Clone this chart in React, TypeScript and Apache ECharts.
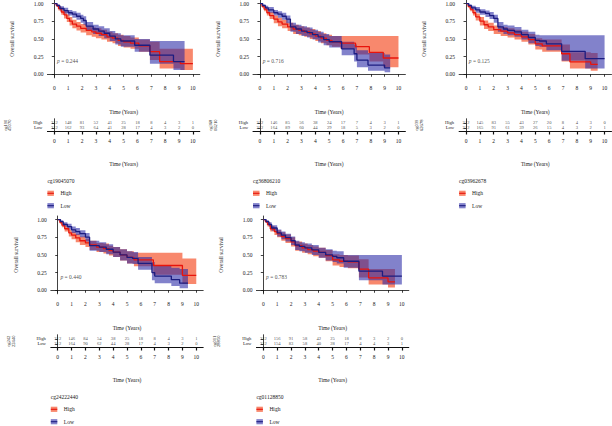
import React, { useEffect, useRef } from "react";
import * as echarts from "echarts";

type Row = [number, number, number, number]; // time, survival, lower, upper

const genes = ["cg19045070", "cg36806210", "cg03962678", "cg24222440", "cg01128850"];
const geneSplit = [["cg190", "45070"], ["cg368", "06210"], ["cg039", "62678"], ["cg242", "22440"], ["cg011", "28850"]];
const pValues = ["0.244", "0.716", "0.125", "0.440", "0.783"];
const timeTicks = [0, 1, 2, 3, 4, 5, 6, 7, 8, 9, 10];
const survTicks = [0, 0.25, 0.5, 0.75, 1];
const groups = ["High", "Low"];

const p1High: Row[] = [[0,1,1,1],[0.15,0.97,0.95,0.99],[0.3,0.93,0.9,0.96],[0.5,0.88,0.84,0.92],[0.7,0.84,0.79,0.89],[0.9,0.79,0.74,0.85],[1.1,0.75,0.69,0.81],[1.3,0.71,0.65,0.77],[1.6,0.68,0.62,0.74],[1.9,0.65,0.59,0.71],[2.3,0.62,0.55,0.68],[2.7,0.6,0.53,0.66],[3.0,0.58,0.51,0.65],[3.4,0.56,0.49,0.63],[3.8,0.53,0.46,0.6],[4.2,0.51,0.44,0.58],[4.6,0.48,0.4,0.56],[5.0,0.46,0.38,0.54],[5.5,0.44,0.36,0.52],[6.1,0.4,0.32,0.49],[6.9,0.32,0.2,0.46],[7.6,0.18,0.08,0.36],[9.1,0.15,0.06,0.36],[10,0.15,0.06,0.36]];
const p1Low: Row[] = [[0,1,1,1],[0.2,0.97,0.95,0.99],[0.4,0.93,0.9,0.96],[0.7,0.9,0.86,0.94],[1.0,0.87,0.83,0.91],[1.3,0.85,0.8,0.89],[1.6,0.82,0.77,0.87],[1.9,0.79,0.73,0.84],[2.1,0.76,0.7,0.82],[2.3,0.68,0.61,0.74],[2.8,0.64,0.57,0.7],[3.2,0.61,0.54,0.68],[3.6,0.58,0.51,0.65],[4.0,0.54,0.47,0.61],[4.4,0.5,0.42,0.58],[4.8,0.47,0.39,0.55],[5.8,0.41,0.32,0.5],[6.9,0.27,0.15,0.47],[8.6,0.18,0.06,0.47],[9.4,0.18,0.06,0.47]];
const p2High: Row[] = [[0,1,1,1],[0.15,0.96,0.94,0.98],[0.3,0.92,0.89,0.95],[0.5,0.87,0.83,0.91],[0.7,0.83,0.78,0.88],[1.0,0.78,0.72,0.83],[1.3,0.74,0.68,0.8],[1.6,0.71,0.65,0.77],[2.0,0.67,0.61,0.73],[2.4,0.64,0.57,0.7],[2.8,0.62,0.55,0.68],[3.2,0.6,0.53,0.66],[3.6,0.57,0.5,0.64],[4.0,0.54,0.47,0.61],[4.4,0.51,0.44,0.58],[4.8,0.48,0.41,0.56],[5.2,0.46,0.39,0.54],[5.8,0.44,0.36,0.54],[6.9,0.39,0.28,0.54],[7.9,0.31,0.18,0.54],[8.9,0.23,0.1,0.54],[10,0.23,0.1,0.54]];
const p2Low: Row[] = [[0,1,1,1],[0.2,0.97,0.95,0.99],[0.4,0.94,0.91,0.97],[0.6,0.91,0.87,0.95],[1.0,0.87,0.83,0.91],[1.3,0.85,0.8,0.89],[1.6,0.82,0.77,0.87],[1.9,0.78,0.72,0.83],[2.2,0.67,0.6,0.73],[2.6,0.64,0.57,0.7],[3.0,0.61,0.54,0.68],[3.4,0.59,0.52,0.66],[3.8,0.56,0.49,0.63],[4.2,0.53,0.45,0.6],[4.6,0.49,0.41,0.57],[5.0,0.46,0.38,0.54],[5.9,0.36,0.27,0.46],[6.8,0.29,0.18,0.42],[7.0,0.2,0.1,0.34],[7.8,0.13,0.05,0.3],[9.0,0.09,0.03,0.28],[9.4,0.09,0.03,0.28]];
const p3High: Row[] = [[0,1,1,1],[0.15,0.96,0.94,0.98],[0.3,0.92,0.89,0.95],[0.5,0.87,0.83,0.91],[0.7,0.81,0.76,0.86],[1.0,0.75,0.69,0.81],[1.3,0.7,0.64,0.76],[1.6,0.67,0.61,0.73],[2.0,0.63,0.57,0.69],[2.5,0.61,0.54,0.67],[3.0,0.585,0.52,0.65],[3.5,0.56,0.49,0.63],[4.0,0.53,0.46,0.6],[4.5,0.49,0.42,0.57],[5.0,0.43,0.35,0.51],[5.5,0.4,0.32,0.49],[6.9,0.29,0.18,0.42],[7.5,0.175,0.08,0.31],[9.0,0.14,0.05,0.3],[9.5,0.14,0.05,0.3]];
const p3Low: Row[] = [[0,1,1,1],[0.2,0.97,0.95,0.99],[0.4,0.94,0.91,0.97],[0.7,0.91,0.87,0.95],[1.0,0.88,0.84,0.92],[1.4,0.86,0.81,0.9],[1.7,0.83,0.78,0.88],[2.0,0.79,0.73,0.84],[2.3,0.67,0.6,0.74],[2.7,0.64,0.57,0.7],[3.0,0.62,0.55,0.69],[3.5,0.6,0.53,0.67],[4.0,0.56,0.49,0.63],[4.5,0.52,0.44,0.6],[5.0,0.48,0.4,0.56],[5.3,0.47,0.39,0.55],[5.8,0.43,0.34,0.55],[6.9,0.325,0.19,0.55],[8.6,0.22,0.08,0.55],[10,0.22,0.08,0.55]];
const p4High: Row[] = [[0,1,1,1],[0.15,0.96,0.94,0.98],[0.3,0.92,0.89,0.95],[0.5,0.87,0.83,0.91],[0.8,0.81,0.76,0.86],[1.0,0.78,0.72,0.83],[1.3,0.74,0.68,0.8],[1.6,0.7,0.64,0.76],[2.0,0.67,0.61,0.73],[2.3,0.64,0.57,0.7],[2.8,0.61,0.54,0.67],[3.3,0.59,0.52,0.66],[3.7,0.56,0.49,0.63],[4.0,0.54,0.47,0.61],[4.5,0.5,0.42,0.58],[5.0,0.465,0.38,0.55],[5.5,0.43,0.34,0.53],[6.9,0.35,0.22,0.53],[9.0,0.21,0.09,0.45],[10,0.21,0.09,0.45]];
const p4Low: Row[] = [[0,1,1,1],[0.2,0.97,0.95,0.99],[0.4,0.93,0.9,0.96],[0.7,0.9,0.86,0.94],[1.0,0.855,0.81,0.9],[1.3,0.83,0.78,0.88],[1.6,0.8,0.75,0.85],[2.0,0.75,0.69,0.81],[2.3,0.63,0.56,0.7],[3.0,0.61,0.54,0.68],[3.5,0.58,0.51,0.65],[4.0,0.54,0.47,0.61],[4.5,0.5,0.42,0.58],[5.0,0.465,0.38,0.55],[5.4,0.45,0.37,0.54],[5.8,0.38,0.29,0.47],[6.8,0.25,0.14,0.4],[7.0,0.2,0.1,0.35],[8.2,0.15,0.06,0.32],[8.8,0.1,0.03,0.3],[9.4,0.1,0.03,0.3]];
const p5High: Row[] = [[0,1,1,1],[0.15,0.97,0.95,0.99],[0.3,0.93,0.9,0.96],[0.5,0.87,0.83,0.91],[0.8,0.83,0.78,0.88],[1.0,0.8,0.75,0.85],[1.3,0.76,0.7,0.82],[1.6,0.73,0.67,0.79],[2.0,0.685,0.62,0.75],[2.3,0.63,0.56,0.69],[2.8,0.6,0.53,0.66],[3.2,0.575,0.51,0.64],[3.6,0.555,0.48,0.62],[4.0,0.535,0.46,0.6],[4.5,0.49,0.41,0.57],[5.0,0.43,0.35,0.51],[5.5,0.41,0.33,0.5],[6.1,0.4,0.31,0.49],[6.9,0.3,0.18,0.44],[7.6,0.175,0.08,0.3],[9.0,0.12,0.04,0.3],[9.5,0.12,0.04,0.3]];
const p5Low: Row[] = [[0,1,1,1],[0.2,0.97,0.95,0.99],[0.4,0.93,0.9,0.96],[0.6,0.88,0.84,0.92],[1.0,0.81,0.76,0.86],[1.3,0.78,0.72,0.83],[1.6,0.745,0.69,0.8],[2.0,0.7,0.64,0.76],[2.3,0.64,0.57,0.7],[2.6,0.62,0.55,0.68],[3.0,0.6,0.53,0.66],[3.5,0.57,0.5,0.64],[4.0,0.535,0.46,0.6],[4.5,0.5,0.42,0.58],[5.0,0.48,0.4,0.56],[5.3,0.46,0.38,0.55],[5.8,0.41,0.32,0.5],[6.9,0.27,0.14,0.5],[8.6,0.2,0.08,0.5],[10,0.2,0.08,0.5]];

const risk1High = [212, 148, 81, 52, 41, 25, 18, 8, 4, 3, 1];
const risk1Low = [212, 162, 93, 64, 41, 28, 17, 4, 3, 2, 0];
const risk2High = [212, 146, 85, 56, 38, 24, 17, 7, 4, 3, 1];
const risk2Low = [212, 164, 89, 60, 44, 29, 18, 5, 3, 2, 0];
const risk3High = [212, 145, 83, 55, 43, 27, 20, 8, 4, 3, 0];
const risk3Low = [212, 165, 91, 61, 39, 26, 15, 4, 3, 2, 1];
const risk4High = [212, 146, 84, 54, 38, 25, 18, 8, 4, 3, 1];
const risk4Low = [212, 164, 90, 62, 44, 28, 17, 4, 3, 2, 0];
const risk5High = [212, 156, 91, 58, 42, 25, 18, 8, 3, 2, 0];
const risk5Low = [212, 154, 83, 58, 40, 28, 17, 4, 4, 3, 1];

const highCurves = [p1High, p2High, p3High, p4High, p5High];
const lowCurves = [p1Low, p2Low, p3Low, p4Low, p5Low];
const highRisk = [risk1High, risk2High, risk3High, risk4High, risk5High];
const lowRisk = [risk1Low, risk2Low, risk3Low, risk4Low, risk5Low];

const FONT = "Liberation Serif";
const TXT = "#1a1a1a";
const RED_LINE = "#e8140c";
const BLUE_LINE = "#1c1c80";
const RED_BAND = "rgba(244,80,40,0.68)";
const BLUE_BAND = "rgba(40,40,165,0.58)";

const layout = [
  { left: 47.4, top: 0 },
  { left: 253, top: 0 },
  { left: 459.1, top: 0 },
  { left: 50.8, top: 216 },
  { left: 256.4, top: 216 },
];
const W = 152.4;
const KM_H = 77.8;
const RISK_TOP = 118.75;
const RISK_H = 12.75;
const RISK_MIN = 0.25;
const RISK_MAX = 2.8;

function bandSeries(curve: Row[], color: string, axisIdx: number) {
  return {
    type: "custom",
    xAxisIndex: axisIdx,
    yAxisIndex: axisIdx,
    silent: true,
    data: curve.map((r) => [r[0], r[2], r[3]]),
    renderItem: (params: any, api: any) => {
      if (params.dataIndex !== 0) return null;
      const pts: number[][] = [];
      for (let i = 0; i < curve.length - 1; i++) {
        pts.push(api.coord([curve[i][0], curve[i][3]]));
        pts.push(api.coord([curve[i + 1][0], curve[i][3]]));
      }
      for (let i = curve.length - 2; i >= 0; i--) {
        pts.push(api.coord([curve[i + 1][0], curve[i][2]]));
        pts.push(api.coord([curve[i][0], curve[i][2]]));
      }
      return { type: "polygon", shape: { points: pts }, style: { fill: color, stroke: "none" } };
    },
  };
}

function lineSeries(curve: Row[], color: string, axisIdx: number) {
  return {
    type: "line",
    xAxisIndex: axisIdx,
    yAxisIndex: axisIdx,
    step: "end",
    symbol: "none",
    silent: true,
    data: curve.map((r) => [r[0], r[1]]),
    lineStyle: { color, width: 1.3 },
  };
}

const baseText = { fontFamily: FONT, fontSize: 5.5, color: TXT };
const riskText = { fontFamily: FONT, fontSize: 4.6, color: TXT };

function buildOption() {
  const grid: any[] = [];
  const xAxis: any[] = [];
  const yAxis: any[] = [];
  const series: any[] = [];
  const graphic: any[] = [];

  layout.forEach((pos, i) => {
    const km = 2 * i;
    const rk = 2 * i + 1;
    grid.push({ left: pos.left, top: pos.top, width: W, height: KM_H, containLabel: false, outerBoundsMode: "none" });
    grid.push({ left: pos.left, top: pos.top + RISK_TOP, width: W, height: RISK_H, containLabel: false, outerBoundsMode: "none" });

    const axisLine = { show: true, lineStyle: { color: "#111", width: 0.8 } };
    xAxis.push({
      type: "value", gridIndex: km, min: -0.5, max: 10.5,
      axisLine, splitLine: { show: false },
      axisTick: { show: true, length: 2.5, customValues: timeTicks, lineStyle: { color: "#111", width: 0.8 } },
      axisLabel: { ...baseText, margin: 7.5, customValues: timeTicks },
      name: "Time (Years)", nameLocation: "middle", nameGap: 31, nameTextStyle: { ...baseText },
    });
    yAxis.push({
      type: "value", gridIndex: km, min: -0.05, max: 1.05,
      axisLine, splitLine: { show: false },
      axisTick: { show: true, length: 2.5, customValues: survTicks, lineStyle: { color: "#111", width: 0.8 } },
      axisLabel: { ...baseText, margin: 4, customValues: survTicks, formatter: (v: number) => v.toFixed(2) },
      name: "Overall survival", nameLocation: "middle", nameGap: 32, nameRotate: 90, nameTextStyle: { ...baseText },
    });
    xAxis.push({
      type: "value", gridIndex: rk, min: -0.5, max: 10.5,
      axisLine: { show: true, lineStyle: { color: "#111", width: 1 } }, splitLine: { show: false },
      axisTick: { show: true, length: 3, customValues: timeTicks, lineStyle: { color: "#111", width: 1.2 } },
      axisLabel: { ...baseText, margin: 6.5, customValues: timeTicks },
      name: "Time (Years)", nameLocation: "middle", nameGap: 29.5, nameTextStyle: { ...baseText },
    });
    yAxis.push({
      type: "value", gridIndex: rk, min: RISK_MIN, max: RISK_MAX,
      axisLine: { show: true, lineStyle: { color: "#111", width: 0.8 } }, splitLine: { show: false },
      axisTick: { show: true, length: 2.5, customValues: [1, 2], lineStyle: { color: "#111", width: 0.8 } },
      axisLabel: { ...riskText, margin: 5, hideOverlap: false, customValues: [1, 2], formatter: (v: number) => (v === 2 ? groups[0] : groups[1]) },
    });

    series.push(bandSeries(highCurves[i], RED_BAND, km));
    series.push(bandSeries(lowCurves[i], BLUE_BAND, km));
    series.push(lineSeries(highCurves[i], RED_LINE, km));
    series.push(lineSeries(lowCurves[i], BLUE_LINE, km));
    series.push({
      type: "scatter", xAxisIndex: km, yAxisIndex: km, symbolSize: 0, silent: true,
      data: [[0.2, 0.19, pValues[i]]],
      label: {
        show: true, position: [0, 0], align: "left", verticalAlign: "middle",
        formatter: (p: any) => "{i|p} = " + p.value[2],
        ...baseText,
        rich: { i: { fontFamily: FONT, fontSize: 5.5, fontStyle: "italic", color: TXT } },
      },
    });
    const riskData: any[] = [];
    timeTicks.forEach((t, k) => {
      riskData.push([t, 2, highRisk[i][k]]);
      riskData.push([t, 1, lowRisk[i][k]]);
    });
    series.push({
      type: "scatter", xAxisIndex: rk, yAxisIndex: rk, symbolSize: 0, silent: true,
      data: riskData,
      labelLayout: { hideOverlap: false },
      label: { show: true, position: "inside", formatter: (p: any) => String(p.value[2]), ...riskText },
    });

    // rotated gene label beside the risk table
    const unit = RISK_H / (RISK_MAX - RISK_MIN);
    const midY = pos.top + RISK_TOP + (RISK_MAX - 1.5) * unit;
    graphic.push({
      type: "text", x: pos.left - 40, y: midY, rotation: Math.PI / 2,
      style: { text: geneSplit[i].join("\n"), font: `4.6px "${FONT}"`, fill: TXT, align: "center", verticalAlign: "middle", lineHeight: 4.4 },
    });
    // legend
    const legTop = pos.top + 181;
    graphic.push({ type: "text", x: pos.left, y: legTop, style: { text: genes[i], font: `5.5px "${FONT}"`, fill: TXT, align: "left", verticalAlign: "middle" } });
    [RED_BAND, BLUE_BAND].forEach((fill, g) => {
      const cy = legTop + 12.3 + g * 12.4;
      const lineCol = g === 0 ? RED_LINE : BLUE_LINE;
      graphic.push({ type: "rect", shape: { x: pos.left, y: cy - 2.6, width: 6.5, height: 5.2 }, style: { fill, stroke: "none" } });
      graphic.push({ type: "line", shape: { x1: pos.left, y1: cy, x2: pos.left + 6.5, y2: cy }, style: { stroke: lineCol, lineWidth: 1.1 } });
      graphic.push({ type: "text", x: pos.left + 13, y: cy, style: { text: groups[g], font: `5.5px "${FONT}"`, fill: TXT, align: "left", verticalAlign: "middle" } });
    });
  });

  return { animation: false, backgroundColor: "#ffffff", grid, xAxis, yAxis, series, graphic };
}

export default function App() {
  const ref = useRef<HTMLDivElement>(null);
  useEffect(() => {
    document.body.style.margin = "0";
    if (!ref.current) return;
    const chart = echarts.init(ref.current, undefined, { renderer: "svg" });
    chart.setOption(buildOption() as any);
    return () => chart.dispose();
  }, []);
  return <div ref={ref} style={{ position: "absolute", left: 0, top: 0, width: 612, height: 426 }} />;
}
